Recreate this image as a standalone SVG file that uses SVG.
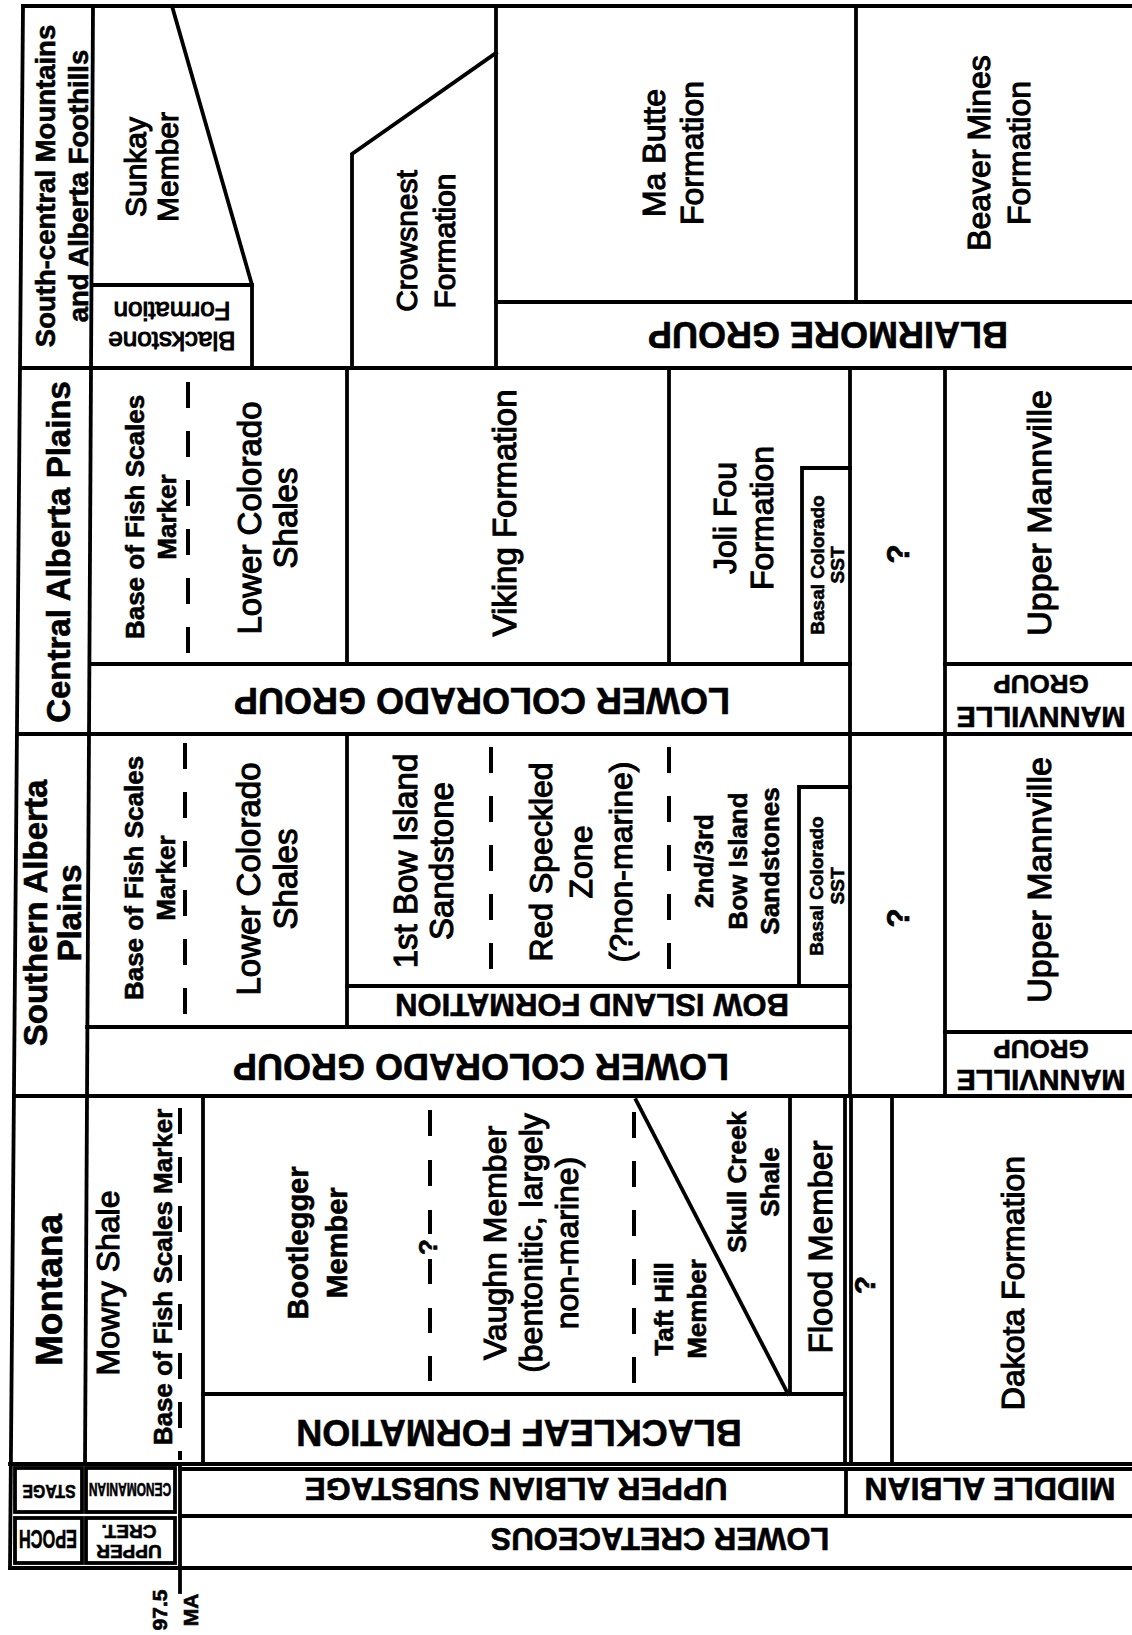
<svg xmlns="http://www.w3.org/2000/svg" width="1132" height="1635" viewBox="0 0 1132 1635">
<style>
text { font-family: "Liberation Sans", Arial, Helvetica, sans-serif; fill: #000; text-anchor: middle; stroke: #000; stroke-width: 0.6; }
.b { font-weight: bold; }
.r { stroke-width: 1.1; }
.ln { stroke: #000; stroke-width: 3.8; fill: none; stroke-linecap: square; }
.dash { stroke: #000; stroke-width: 4; stroke-dasharray: 26 23; fill: none; }
.seg { stroke: #000; stroke-width: 4; fill: none; }
</style>
<rect width="1132" height="1635" fill="#fff"/>

<g id="grid" class="ln">
  <path d="M23,6 H1132"/>
  <path d="M23,6 L10,1568"/>
  <path d="M93,6 L85,1464"/>
  <path d="M22,368 H1132"/>
  <path d="M18,734 H1132"/>
  <path d="M15,1096 H1132"/>
  <path d="M10,1464 H1132"/>
  <path d="M10,1568 H1132"/>
  <!-- row 1 -->
  <path d="M172,6 L252,285 V368"/>
  <path d="M93,285 H252"/>
  <path d="M352,368 V154 L496,53"/>
  <path d="M496,6 V368"/>
  <path d="M856,6 V302"/>
  <path d="M496,302 H1132"/>
  <!-- row 2 -->
  <path d="M347,368 V664"/>
  <path d="M90,664 H850"/>
  <path d="M669,368 V664"/>
  <path d="M850,468 H802 V664"/>
  <path d="M850,368 V734"/>
  <path d="M945,368 V734"/>
  <path d="M945,664 H1132"/>
  <!-- row 3 -->
  <path d="M347,734 V1027"/>
  <path d="M347,986 H850"/>
  <path d="M87,1027 H850"/>
  <path d="M850,787 H799 V986"/>
  <path d="M850,734 V1096"/>
  <path d="M945,734 V1096"/>
  <path d="M945,1032 H1132"/>
  <!-- row 4 -->
  <path d="M203,1096 V1464"/>
  <path d="M203,1394 H845"/>
  <path d="M790,1096 V1394"/>
  <path d="M845,1096 V1464"/>
  <path d="M851,1096 V1464"/>
  <path d="M892,1096 V1464"/>
  <path d="M636,1100 L788,1394"/>
  <!-- time scale -->
  <rect x="15" y="1468" width="67" height="44"/>
  <rect x="86" y="1468" width="89" height="44"/>
  <rect x="15" y="1518" width="67" height="45"/>
  <rect x="86" y="1518" width="89" height="45"/>
  <path d="M180,1464 V1592"/>
  <path d="M180,1469 H1132"/>
  <path d="M180,1516 H1132"/>
  <path d="M846,1469 V1516"/>
</g>

<g id="dashes">
  <path class="dash" d="M188,382 V653"/>
  <path class="dash" d="M185,743 V1015"/>
  <path class="dash" d="M491,747 V970"/>
  <path class="dash" d="M669,747 V970"/>
  <path class="dash" d="M180,1108 V1460"/>
  <path class="dash" d="M634,1112 V1383"/>
  <path class="seg" d="M430,1110 V1136 M430,1160 V1186 M430,1210 V1234 M430,1259 V1284 M430,1308 V1333 M430,1356 V1381"/>
</g>

<!-- Row 1: South-central Mountains and Alberta Foothills -->
<g id="hdr-southcentral"><text class="b" font-size="27.5" transform="translate(55,186) rotate(-90)"><tspan x="0">South-central Mountains</tspan><tspan x="0" dy="33">and Alberta Foothills</tspan></text></g>
<g id="sunkay"><text class="r" font-size="30" transform="translate(146,167) rotate(-90)"><tspan x="0">Sunkay</tspan><tspan x="0" dy="32">Member</tspan></text></g>
<g id="blackstone"><text class="r" font-size="26" transform="translate(172,332) rotate(180)"><tspan x="0">Blackstone</tspan><tspan x="0" dy="30">Formation</tspan></text></g>
<g id="crowsnest"><text class="r" font-size="30" transform="translate(417,241) rotate(-90)"><tspan x="0">Crowsnest</tspan><tspan x="0" dy="38">Formation</tspan></text></g>
<g id="mabutte"><text class="r" font-size="32" transform="translate(665,153) rotate(-90)"><tspan x="0">Ma Butte</tspan><tspan x="0" dy="38">Formation</tspan></text></g>
<g id="beavermines"><text class="r" font-size="32" transform="translate(990,153) rotate(-90)"><tspan x="0">Beaver Mines</tspan><tspan x="0" dy="40">Formation</tspan></text></g>
<g id="blairmore"><text class="b" font-size="36" transform="translate(828,322) rotate(180)">BLAIRMORE GROUP</text></g>

<!-- Row 2: Central Alberta Plains -->
<g id="hdr-central"><text class="b" font-size="33" transform="translate(70,552) rotate(-90)">Central Alberta Plains</text></g>
<g id="fishscales-c"><text class="b" font-size="26" transform="translate(144,517) rotate(-90)"><tspan x="0">Base of Fish Scales</tspan><tspan x="0" dy="32">Marker</tspan></text></g>
<g id="lcshales-c"><text class="r" font-size="33" transform="translate(261,518) rotate(-90)"><tspan x="0">Lower Colorado</tspan><tspan x="0" dy="36">Shales</tspan></text></g>
<g id="viking"><text class="r" font-size="33" transform="translate(516,513) rotate(-90)">Viking Formation</text></g>
<g id="jolifou"><text class="r" font-size="32" transform="translate(736,518) rotate(-90)"><tspan x="0">Joli Fou</tspan><tspan x="0" dy="37">Formation</tspan></text></g>
<g id="basal-c"><text class="b" font-size="19" transform="translate(824,565) rotate(-90)"><tspan x="0">Basal Colorado</tspan><tspan x="0" dy="20">SST</tspan></text></g>
<g id="q-c"><text class="b" font-size="32" transform="translate(909,554) rotate(-90)">?</text></g>
<g id="uppermann-c"><text class="r" font-size="34" transform="translate(1051,513) rotate(-90)">Upper Mannville</text></g>
<g id="lcgroup-c"><text class="b" font-size="36" transform="translate(482,688) rotate(180)">LOWER COLORADO GROUP</text></g>
<g id="mannville-c"><text class="b" font-size="26" transform="translate(1041,707) rotate(180)"><tspan x="0" font-size="29">MANNVILLE</tspan><tspan x="0" dy="32">GROUP</tspan></text></g>

<!-- Row 3: Southern Alberta Plains -->
<g id="hdr-southern"><text class="b" font-size="33" transform="translate(47,913) rotate(-90)"><tspan x="0">Southern Alberta</tspan><tspan x="0" dy="34">Plains</tspan></text></g>
<g id="fishscales-s"><text class="b" font-size="26" transform="translate(143,878) rotate(-90)"><tspan x="0">Base of Fish Scales</tspan><tspan x="0" dy="32">Marker</tspan></text></g>
<g id="lcshales-s"><text class="r" font-size="33" transform="translate(260,879) rotate(-90)"><tspan x="0">Lower Colorado</tspan><tspan x="0" dy="37">Shales</tspan></text></g>
<g id="bowisland1"><text class="r" font-size="33" transform="translate(417,861) rotate(-90)"><tspan x="0">1st Bow Island</tspan><tspan x="0" dy="36">Sandstone</tspan></text></g>
<g id="redspeckled"><text class="r" font-size="32" transform="translate(552,862) rotate(-90)"><tspan x="0">Red Speckled</tspan><tspan x="0" dy="40">Zone</tspan><tspan x="0" dy="40">(?non-marine)</tspan></text></g>
<g id="bowisland23"><text class="b" font-size="26" transform="translate(713,861) rotate(-90)"><tspan x="0">2nd/3rd</tspan><tspan x="0" dy="34">Bow Island</tspan><tspan x="0" dy="32">Sandstones</tspan></text></g>
<g id="basal-s"><text class="b" font-size="19" transform="translate(823,886) rotate(-90)"><tspan x="0">Basal Colorado</tspan><tspan x="0" dy="21">SST</tspan></text></g>
<g id="q-s"><text class="b" font-size="32" transform="translate(909,918) rotate(-90)">?</text></g>
<g id="uppermann-s"><text class="r" font-size="34" transform="translate(1051,880) rotate(-90)">Upper Mannville</text></g>
<g id="bowislandfm"><text class="b" font-size="31" transform="translate(592,994) rotate(180)">BOW ISLAND FORMATION</text></g>
<g id="lcgroup-s"><text class="b" font-size="36" transform="translate(481,1054) rotate(180)">LOWER COLORADO GROUP</text></g>
<g id="mannville-s"><text class="b" font-size="26" transform="translate(1041,1070) rotate(180)"><tspan x="0" font-size="29">MANNVILLE</tspan><tspan x="0" dy="30">GROUP</tspan></text></g>

<!-- Row 4: Montana -->
<g id="hdr-montana"><text class="b" font-size="37" transform="translate(62,1290) rotate(-90)">Montana</text></g>
<g id="mowry"><text class="r" font-size="32" transform="translate(119,1283) rotate(-90)">Mowry Shale</text></g>
<g id="fishscales-m"><text class="b" font-size="26" transform="translate(172,1277) rotate(-90)">Base of Fish Scales Marker</text></g>
<g id="bootlegger"><text class="b" font-size="29" transform="translate(308,1243) rotate(-90)"><tspan x="0">Bootlegger</tspan><tspan x="0" dy="39">Member</tspan></text></g>
<g id="q-boot"><text class="b" font-size="26" transform="translate(437,1247) rotate(-90)">?</text></g>
<g id="vaughn"><text class="r" font-size="32" transform="translate(506,1243) rotate(-90)"><tspan x="0">Vaughn Member</tspan><tspan x="0" dy="36">(bentonitic, largely</tspan><tspan x="0" dy="36">non-marine)</tspan></text></g>
<g id="tafthill"><text class="b" font-size="26" transform="translate(673,1309) rotate(-90)"><tspan x="0">Taft Hill</tspan><tspan x="0" dy="33">Member</tspan></text></g>
<g id="skullcreek"><text class="b" font-size="26" transform="translate(746,1182) rotate(-90)"><tspan x="0">Skull Creek</tspan><tspan x="0" dy="33">Shale</tspan></text></g>
<g id="flood"><text class="r" font-size="33" transform="translate(832,1247) rotate(-90)">Flood Member</text></g>
<g id="q-m"><text class="b" font-size="30" transform="translate(875,1285) rotate(-90)">?</text></g>
<g id="dakota"><text class="r" font-size="32" transform="translate(1024,1283) rotate(-90)">Dakota Formation</text></g>
<g id="blackleaf"><text class="b" font-size="36" transform="translate(519,1420) rotate(180)">BLACKLEAF FORMATION</text></g>

<!-- Time scale -->
<g id="stage-hdr"><text class="b" font-size="18" transform="translate(49,1485) rotate(180) scale(0.88,1)">STAGE</text></g>
<g id="cenomanian"><text class="b" font-size="19" transform="translate(130,1483) rotate(180) scale(0.63,1)">CENOMANIAN</text></g>
<g id="epoch-hdr"><text class="b" font-size="26" transform="translate(48,1530) rotate(180) scale(0.63,1)">EPOCH</text></g>
<g id="uppercret"><text class="b" font-size="19" transform="translate(129,1545) rotate(180)"><tspan x="0">UPPER</tspan><tspan x="0" dy="20">CRET.</tspan></text></g>
<g id="upperalbian"><text class="b" font-size="32" transform="translate(516,1478) rotate(180)">UPPER ALBIAN SUBSTAGE</text></g>
<g id="middlealbian"><text class="b" font-size="32" transform="translate(990,1478) rotate(180)">MIDDLE ALBIAN</text></g>
<g id="lowercret"><text class="b" font-size="31" transform="translate(660,1528) rotate(180)">LOWER CRETACEOUS</text></g>
<g id="ma975"><text class="b" font-size="21" transform="translate(167,1610) rotate(-90)"><tspan x="0">97.5</tspan><tspan x="0" dy="31">MA</tspan></text></g>
</svg>
